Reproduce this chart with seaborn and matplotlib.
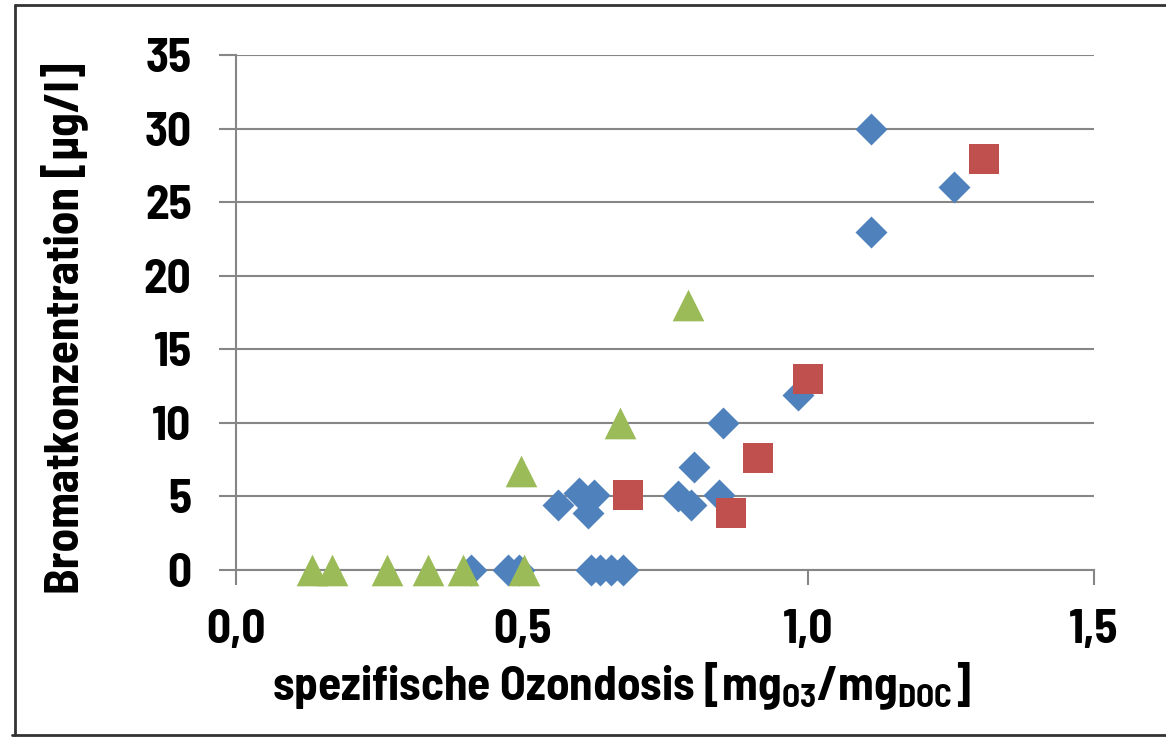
import pandas as pd
import numpy as np
import matplotlib.pyplot as plt
import seaborn as sns
from matplotlib.lines import Line2D

# Werte
blau_x = [0.41, 0.475, 0.495, 0.62, 0.637, 0.655, 0.677, 0.563, 0.599, 0.625, 0.616,
          0.772, 0.795, 0.80, 0.844, 0.852, 0.982, 1.11, 1.11, 1.255]
blau_y = [0, 0, 0, 0, 0, 0, 0, 4.4, 5.2, 5.1, 3.9,
          5.0, 4.4, 7.0, 5.1, 10.0, 11.9, 30.0, 23.0, 26.0]
rot_x = [0.686, 0.865, 0.912, 1.0, 1.307]
rot_y = [5.1, 3.9, 7.6, 13.0, 27.9]
gruen_x = [0.133, 0.168, 0.264, 0.336, 0.397, 0.503, 0.499, 0.672, 0.791]
gruen_y = [0, 0, 0, 0, 0, 0, 6.7, 10.0, 18.0]

x_ticks = [0.0, 0.5, 1.0, 1.5]
x_ticklabels = ['0,0', '0,5', '1,0', '1,5']
y_ticks = [0, 5, 10, 15, 20, 25, 30, 35]

df = pd.concat([
    pd.DataFrame({'x': blau_x, 'y': blau_y, 'serie': 'A'}),
    pd.DataFrame({'x': rot_x, 'y': rot_y, 'serie': 'B'}),
    pd.DataFrame({'x': gruen_x, 'y': gruen_y, 'serie': 'C'}),
], ignore_index=True)

sns.set_theme(style="white")
schrift = 'Barlow Semi Condensed'
plt.rcParams['font.family'] = [schrift, 'DejaVu Sans']
plt.rcParams['font.weight'] = 'bold'
plt.rcParams['text.color'] = 'black'
plt.rcParams['axes.labelcolor'] = 'black'
plt.rcParams['mathtext.fontset'] = 'custom'
plt.rcParams['mathtext.rm'] = schrift + ':bold'
plt.rcParams['mathtext.it'] = schrift + ':bold'
plt.rcParams['mathtext.bf'] = schrift + ':bold'

grau = '#868686'
fig = plt.figure(figsize=(11.66, 7.41), dpi=100)
ax = fig.add_axes([0.2024, 0.2308, 0.7359, 0.695])

farben = {'A': '#4F81BD', 'B': '#C0504D', 'C': '#9BBB59'}
marker = {'A': 'D', 'B': 's', 'C': '^'}
groesse = {'A': 265, 'B': 480, 'C': 520}

for s in ['A', 'B', 'C']:
    sub = df[df['serie'] == s]
    sns.scatterplot(data=sub, x='x', y='y', color=farben[s], marker=marker[s],
                    s=groesse[s], linewidth=0, ax=ax, clip_on=False, zorder=3)

ax.set_xlim(0, 1.5)
ax.set_ylim(0, 35)
ax.set_xticks(x_ticks)
ax.set_xticklabels(x_ticklabels)
ax.set_yticks(y_ticks)
ax.yaxis.grid(True, color=grau, linewidth=1.5)
ax.set_axisbelow(True)

for side in ['top', 'right']:
    ax.spines[side].set_visible(False)
for side in ['left', 'bottom']:
    ax.spines[side].set_color(grau)
    ax.spines[side].set_linewidth(1.5)

ax.tick_params(axis='y', direction='out', length=12, width=1.5, color=grau,
               labelcolor='black', pad=20, labelsize=34, left=True)
ax.tick_params(axis='x', direction='out', length=11, width=1.5, color=grau,
               labelcolor='black', pad=17, labelsize=34, bottom=True)
for lab in ax.get_xticklabels() + ax.get_yticklabels():
    lab.set_fontweight('bold')

ax.set_xlabel(r'spezifische Ozondosis [mg$_{\mathrm{O3}}$/mg$_{\mathrm{DOC}}$]',
              fontsize=34, fontweight='bold')
ax.set_ylabel('Bromatkonzentration [µg/l]', fontsize=34, fontweight='bold')
ax.xaxis.set_label_coords(0.449, -0.176)
ax.yaxis.set_label_coords(-0.172, 0.47)

# Rahmen um das Bild
fig.add_artist(Line2D([15 / 1166, 1], [1 - 5 / 741, 1 - 5 / 741], color='#333333', lw=2))
fig.add_artist(Line2D([15 / 1166, 15 / 1166], [6 / 741, 1 - 5 / 741], color='#333333', lw=2))
fig.add_artist(Line2D([12 / 1166, 1], [6 / 741, 6 / 741], color='#333333', lw=2))

plt.savefig('out.png', dpi=100)
